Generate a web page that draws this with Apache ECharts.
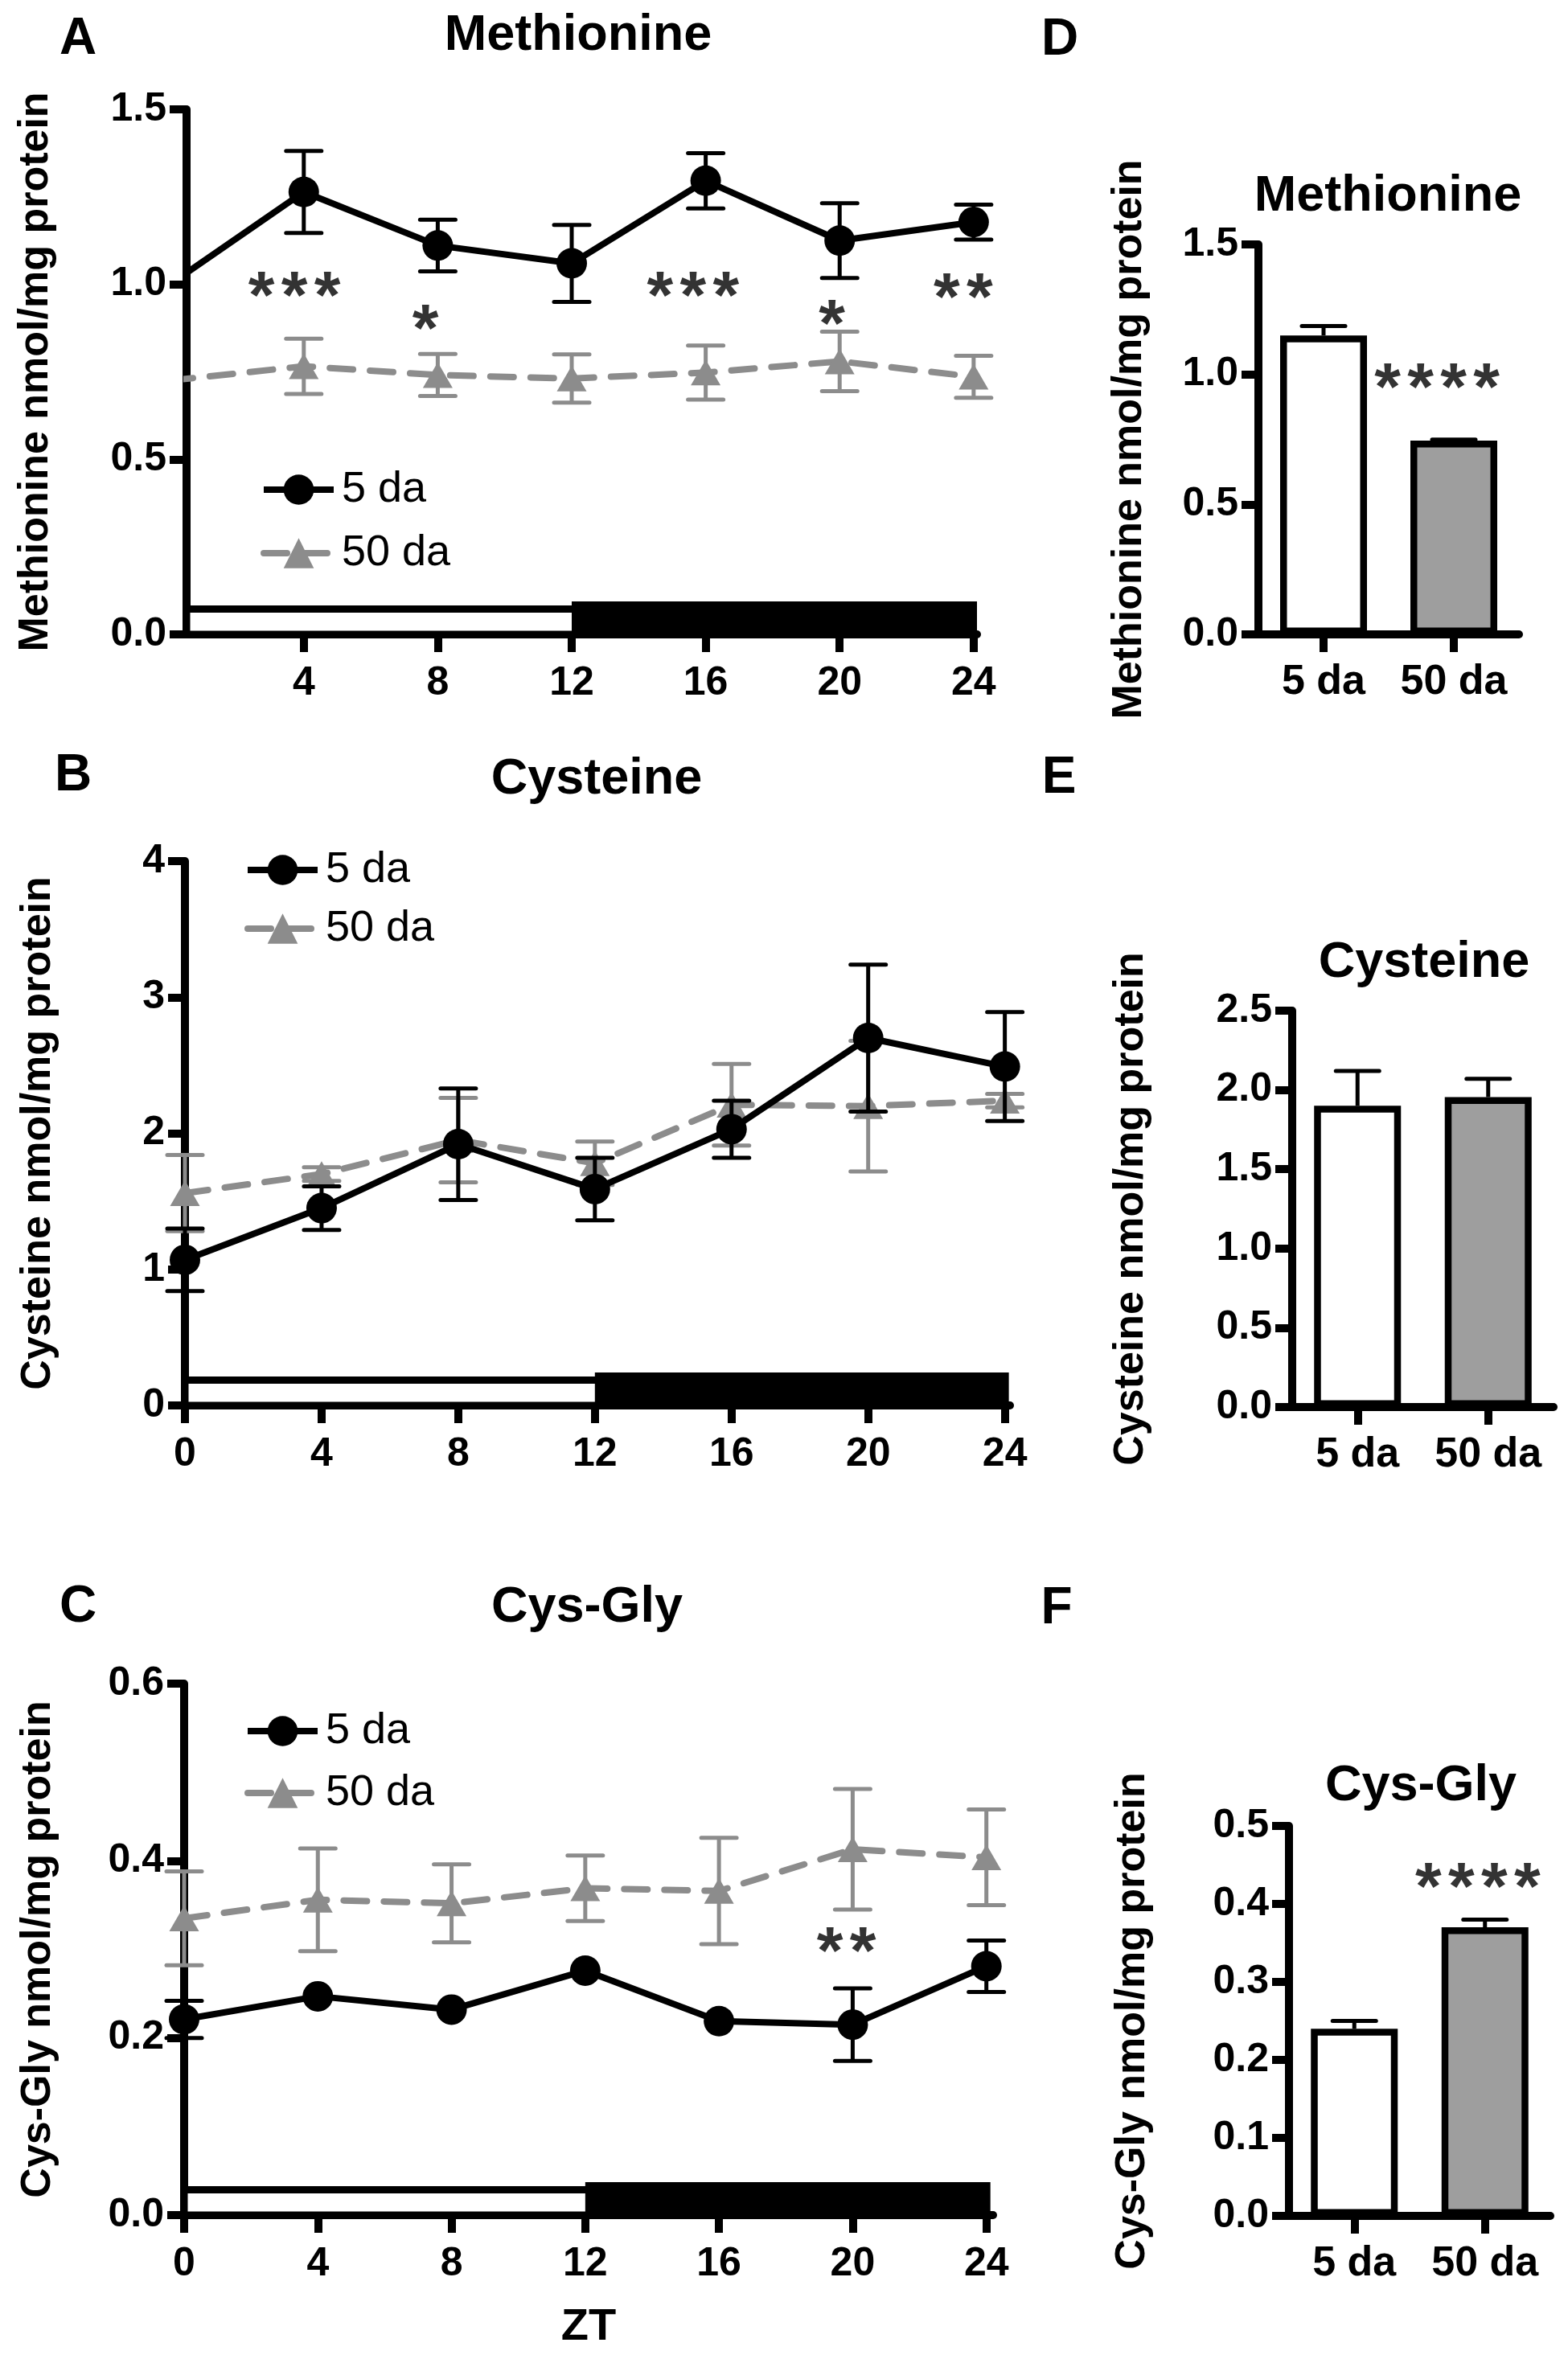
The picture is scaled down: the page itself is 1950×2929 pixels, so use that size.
<!DOCTYPE html>
<html>
<head>
<meta charset="utf-8">
<title>Methionine, Cysteine, Cys-Gly</title>
<script src="https://cdn.jsdelivr.net/npm/echarts@6/dist/echarts.min.js"></script>
<style>
html, body { margin: 0; padding: 0; background: #fff; }
#chart { width: 1950px; height: 2929px; }
</style>
</head>
<body>
<div id="chart"></div>
<script>
// ZT time points and groups
var ZT = [0, 4, 8, 12, 16, 20, 24];
var GROUPS = ['5 da', '50 da'];
// light / dark phases: [start, end, dark]
var LIGHT_DARK = [[0, 12, 0], [12, 24, 1]];

// A - methionine over the day
var metMean5 = [1.00, 1.264, 1.111, 1.060, 1.296, 1.125, 1.178];
var metSem5 = [0, 0.117, 0.074, 0.110, 0.079, 0.107, 0.050];
var metMean50 = [0.725, 0.766, 0.741, 0.731, 0.748, 0.780, 0.736];
var metSem50 = [0, 0.079, 0.060, 0.069, 0.077, 0.085, 0.060];
var metStars = [[3.72, 1.0, 3], [7.63, 0.905, 1], [15.62, 1.0, 3], [19.77, 0.919, 1], [23.69, 0.995, 2]];

// B - cysteine over the day
var cysMean5 = [1.07, 1.45, 1.92, 1.59, 2.03, 2.70, 2.49];
var cysSem5 = [0.23, 0.16, 0.41, 0.23, 0.21, 0.54, 0.40];
var cysMean50 = [1.56, 1.70, 1.95, 1.78, 2.21, 2.20, 2.24];
var cysSem50 = [0.28, 0.05, 0.31, 0.16, 0.30, 0.48, 0.05];
var cysStars = [];

// C - Cys-Gly over the day
var cgMean5 = [0.221, 0.247, 0.232, 0.276, 0.219, 0.215, 0.281];
var cgSem5 = [0.021, 0, 0, 0, 0, 0.041, 0.029];
var cgMean50 = [0.335, 0.356, 0.352, 0.369, 0.366, 0.413, 0.404];
var cgSem50 = [0.053, 0.058, 0.044, 0.037, 0.060, 0.068, 0.054];
var cgStars = [[19.81, 0.311, 2]];

// D, E, F - pooled means
var metBar = [1.150, 0.745];
var metBarSem = [0.036, 0.004];
var cysBar = [1.900, 1.955];
var cysBarSem = [0.220, 0.115];
var cgBar = [0.240, 0.370];
var cgBarSem = [0.010, 0.010];
var metBarStars = [[1, 0.993, 4]];
var cysBarStars = [];
var cgBarStars = [[1, 0.436, 4]];

var FONT = "'Liberation Sans', Arial, Helvetica, sans-serif";
var BLACK = '#000000';
var GREY = '#8c8c8c';
var BAR_FILLS = ['#ffffff', '#9e9e9e'];
var AXIS_W = 10;

// panel layout
var linePanels = [
    {grid: {left: 232, top: 136, width: 983, height: 653}, xMin: 0.5, xMax: 24.1, ticks: [4, 8, 12, 16, 20, 24],
     yMax: 1.5, yStep: 0.5, dec: 1, yName: 'Methionine nmol/mg protein', nameGap: 161,
     m5: metMean5, s5: metSem5, m50: metMean50, s50: metSem50, stars: metStars,
     legendLeft: 319, legendTop: 577, legendGap: 25, xName: ''},
    {grid: {left: 230, top: 1071, width: 1026, height: 677}, xMin: 0, xMax: 24.15, ticks: [0, 4, 8, 12, 16, 20, 24],
     yMax: 4, yStep: 1, dec: 0, yName: 'Cysteine nmol/mg protein', nameGap: 156,
     m5: cysMean5, s5: cysSem5, m50: cysMean50, s50: cysSem50, stars: cysStars,
     legendLeft: 299, legendTop: 1050, legendGap: 19, xName: ''},
    {grid: {left: 229, top: 2094, width: 1006, height: 661}, xMin: 0, xMax: 24.2, ticks: [0, 4, 8, 12, 16, 20, 24],
     yMax: 0.6, yStep: 0.2, dec: 1, yName: 'Cys-Gly nmol/mg protein', nameGap: 155,
     m5: cgMean5, s5: cgSem5, m50: cgMean50, s50: cgSem50, stars: cgStars,
     legendLeft: 299, legendTop: 2121, legendGap: 23, xName: 'ZT'}
];
var barPanels = [
    {grid: {left: 1565, top: 304, width: 324, height: 485}, yMax: 1.5, yStep: 0.5, dec: 1,
     yName: 'Methionine nmol/mg protein', nameGap: 134, mean: metBar, sem: metBarSem, stars: metBarStars, starShift: -21},
    {grid: {left: 1607, top: 1257, width: 325, height: 493}, yMax: 2.5, yStep: 0.5, dec: 1,
     yName: 'Cysteine nmol/mg protein', nameGap: 174, mean: cysBar, sem: cysBarSem, stars: cysBarStars, starShift: 0},
    {grid: {left: 1603, top: 2271, width: 325, height: 485}, yMax: 0.5, yStep: 0.1, dec: 1,
     yName: 'Cys-Gly nmol/mg protein', nameGap: 168, mean: cgBar, sem: cgBarSem, stars: cgBarStars, starShift: -9}
];

// titles and panel letters
var headings = [
    ['A', 97, 49, 64], ['Methionine', 719, 45, 63],
    ['B', 91, 965, 64], ['Cysteine', 742, 970, 63],
    ['C', 97, 1999, 64], ['Cys-Gly', 730, 2000, 63],
    ['D', 1318, 50, 64], ['Methionine', 1726, 245, 63],
    ['E', 1317, 968, 64], ['Cysteine', 1771, 1198, 63],
    ['F', 1314, 2001, 64], ['Cys-Gly', 1767, 2222, 63]
];

function axisText(size) {
    return {color: BLACK, fontSize: size, fontWeight: 'bold', fontFamily: FONT};
}

function axisLine(w) {
    return {show: true, onZero: false, lineStyle: {color: BLACK, width: w}};
}

function axisTick(len, w, extra) {
    return Object.assign({show: true, length: len, lineStyle: {color: BLACK, width: w}}, extra || {});
}

// error bar drawn from [x, mean, sem]
function makeErrorBar(color, capHalf, upOnly) {
    return function (params, api) {
        var x = api.value(0), m = api.value(1), e = api.value(2);
        var hi = api.coord([x, m + e]);
        var lo = api.coord([x, upOnly ? m : m - e]);
        var st = {stroke: color, lineWidth: 5, lineCap: 'round'};
        var kids = [
            {type: 'line', shape: {x1: hi[0], y1: hi[1], x2: lo[0], y2: lo[1]}, style: {stroke: color, lineWidth: 5}},
            {type: 'line', shape: {x1: hi[0] - capHalf, y1: hi[1], x2: hi[0] + capHalf, y2: hi[1]}, style: st}
        ];
        if (!upOnly) {
            kids.push({type: 'line', shape: {x1: lo[0] - capHalf, y1: lo[1], x2: lo[0] + capHalf, y2: lo[1]}, style: st});
        }
        return {type: 'group', children: kids};
    };
}

// white / black light-dark bar along the time axis
function renderLightDark(params, api) {
    var cs = params.coordSys;
    var p0 = api.coord([api.value(0), 0]);
    var p1 = api.coord([api.value(1), 0]);
    var x0 = Math.max(p0[0], cs.x);
    var x1 = Math.min(p1[0] + 5, cs.x + cs.width);
    var yb = p0[1];
    if (api.value(2)) {
        return {type: 'rect', shape: {x: x0, y: yb - 41, width: x1 - x0, height: 41}, style: {fill: BLACK}};
    }
    return {type: 'rect', shape: {x: x0, y: yb - 31.5, width: x1 - x0, height: 31.5},
        style: {fill: '#ffffff', stroke: BLACK, lineWidth: 9}};
}

function starSeries(data, xi, shift) {
    return {
        type: 'scatter', name: 'sig' + xi, xAxisIndex: xi, yAxisIndex: xi, data: data,
        symbolSize: 1, itemStyle: {color: 'rgba(0,0,0,0)'}, silent: true, z: 5,
        label: {
            show: true, position: 'inside', offset: [shift || 0, 19],
            formatter: function (p) {
                var s = '';
                for (var k = 0; k < p.data[2]; k++) s += '{s|*}';
                return s;
            },
            rich: {s: {width: 41, align: 'center', fontSize: 84, fontWeight: 'bold', fontFamily: FONT, color: BLACK}}
        }
    };
}

function errData(xs, means, sems) {
    var out = [];
    for (var k = 0; k < xs.length; k++) {
        if (sems[k] > 0) out.push([xs[k], means[k], sems[k]]);
    }
    return out;
}

var grids = [], xAxes = [], yAxes = [], series = [], legends = [];

linePanels.forEach(function (p, i) {
    grids.push(p.grid);
    xAxes.push({
        gridIndex: i, type: 'value', min: p.xMin, max: p.xMax,
        axisLine: axisLine(AXIS_W),
        axisTick: axisTick(22, AXIS_W, {customValues: p.ticks}),
        axisLabel: Object.assign({customValues: p.ticks, margin: 36}, axisText(50)),
        splitLine: {show: false},
        name: p.xName, nameLocation: 'middle', nameGap: 112, nameTextStyle: axisText(56)
    });
    yAxes.push({
        gridIndex: i, type: 'value', min: 0, max: p.yMax, interval: p.yStep,
        axisLine: axisLine(AXIS_W),
        axisTick: axisTick(21, AXIS_W),
        axisLabel: Object.assign({margin: 25, formatter: (function (d) {
            return function (v) { return v.toFixed(d); };
        })(p.dec)}, axisText(50)),
        splitLine: {show: false},
        name: p.yName, nameLocation: 'middle', nameRotate: 90, nameGap: p.nameGap, nameTextStyle: axisText(52)
    });

    series.push({type: 'custom', name: 'LD' + i, xAxisIndex: i, yAxisIndex: i, data: LIGHT_DARK,
        renderItem: renderLightDark, silent: true, z: 1});
    series.push({type: 'custom', name: 'err50_' + i, xAxisIndex: i, yAxisIndex: i,
        data: errData(ZT, p.m50, p.s50), renderItem: makeErrorBar(GREY, 22, false), silent: true, z: 2});
    series.push({type: 'line', name: '50 da', xAxisIndex: i, yAxisIndex: i,
        data: ZT.map(function (t, k) { return [t, p.m50[k]]; }),
        symbol: 'triangle', symbolSize: [37, 32], showSymbol: true, clip: true, z: 3,
        itemStyle: {color: GREY}, lineStyle: {color: GREY, width: 8, type: [29, 21], cap: 'round'}});
    series.push({type: 'custom', name: 'err5_' + i, xAxisIndex: i, yAxisIndex: i,
        data: errData(ZT, p.m5, p.s5), renderItem: makeErrorBar(BLACK, 22, false), silent: true, z: 4});
    series.push({type: 'line', name: '5 da', xAxisIndex: i, yAxisIndex: i,
        data: ZT.map(function (t, k) { return [t, p.m5[k]]; }),
        symbol: 'circle', symbolSize: 38, showSymbol: true, clip: true, z: 4,
        itemStyle: {color: BLACK}, lineStyle: {color: BLACK, width: 8}});
    if (p.stars.length) series.push(starSeries(p.stars, i, 0));

    legends.push({
        data: GROUPS, orient: 'vertical', left: p.legendLeft, top: p.legendTop,
        itemWidth: 87, itemHeight: 47, itemGap: p.legendGap, selectedMode: false,
        lineStyle: {width: 8},
        textStyle: {color: BLACK, fontSize: 54, fontFamily: FONT, lineHeight: 47, padding: [0, 0, 0, 5]}
    });
});

barPanels.forEach(function (p, j) {
    var i = j + 3;
    grids.push(p.grid);
    xAxes.push({
        gridIndex: i, type: 'category', data: GROUPS,
        axisLine: axisLine(AXIS_W),
        axisTick: axisTick(22, AXIS_W, {alignWithLabel: true, interval: 0}),
        axisLabel: Object.assign({margin: 34, interval: 0}, axisText(52)),
        splitLine: {show: false}
    });
    yAxes.push({
        gridIndex: i, type: 'value', min: 0, max: p.yMax, interval: p.yStep,
        axisLine: axisLine(AXIS_W),
        axisTick: axisTick(21, AXIS_W),
        axisLabel: Object.assign({margin: 25, formatter: function (v) { return v.toFixed(1); }}, axisText(50)),
        splitLine: {show: false},
        name: p.yName, nameLocation: 'middle', nameRotate: 90, nameGap: p.nameGap, nameTextStyle: axisText(52)
    });
    series.push({
        type: 'bar', name: p.yName + ' (pooled)', xAxisIndex: i, yAxisIndex: i, barWidth: 108,
        data: p.mean.map(function (v, k) { return {value: v, itemStyle: {color: BAR_FILLS[k]}}; }),
        itemStyle: {borderColor: BLACK, borderWidth: 8.5}, z: 2
    });
    series.push({type: 'custom', name: 'barErr' + j, xAxisIndex: i, yAxisIndex: i,
        data: errData([0, 1], p.mean, p.sem), renderItem: makeErrorBar(BLACK, 27, true), silent: true, z: 3});
    if (p.stars.length) series.push(starSeries(p.stars, i, p.starShift));
});

var graphics = headings.map(function (h) {
    return {
        type: 'text', x: h[1], y: h[2], silent: true,
        style: {text: h[0], fill: BLACK, font: 'bold ' + h[3] + 'px ' + FONT,
            align: 'center', textAlign: 'center', verticalAlign: 'middle', textVerticalAlign: 'middle'}
    };
});

var chart = echarts.init(document.getElementById('chart'));
chart.setOption({
    animation: false,
    backgroundColor: '#ffffff',
    grid: grids,
    xAxis: xAxes,
    yAxis: yAxes,
    legend: legends,
    graphic: graphics,
    series: series
});
</script>
</body>
</html>
